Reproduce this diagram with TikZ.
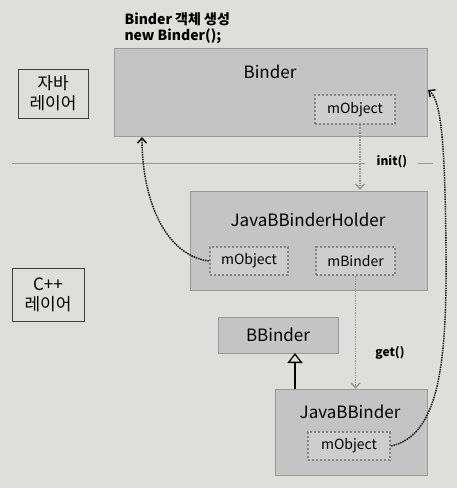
\documentclass[tikz,border=0pt]{standalone}
\usepackage{fontspec}
\setmainfont{Noto Sans CJK KR}
\usetikzlibrary{arrows.meta}

\definecolor{PageBack}{RGB}{222,222,220}
\definecolor{ClassFill}{RGB}{196,196,196}
\definecolor{FieldFill}{RGB}{206,206,206}
\colorlet{ClassLine}{gray!80}

\tikzset{
    classbox/.style={draw=ClassLine, fill=ClassFill, inner sep=0pt},
    fieldbox/.style={draw=black!48, fill=FieldFill, line width=2.4pt,
        dash pattern=on 2.4pt off 1.6pt, font=\fontsize{14}{16}\selectfont, inner sep=0pt},
    layerbox/.style={draw=black!75, thick, fill=PageBack, align=center,
        font=\fontsize{17}{20}\selectfont, inner sep=0pt},
    classname/.style={font=\fontsize{17}{20}\selectfont},
    refline/.style={densely dotted, line width=1.4pt, -{Straight Barb[length=5pt,width=9pt]}},
}

\begin{document}
\begin{tikzpicture}[x=1pt, y=-1pt]

    \useasboundingbox[fill=PageBack] (0, 0) rectangle (457, 488);

    % java layer
    \node [anchor=west, align=left, font=\bfseries\fontsize{14}{16}\selectfont] (title)
        at (121, 28) {Binder 객체 생성\\new Binder();};
    \node [layerbox, minimum width=70, minimum height=49] (javaLayer) at (53, 93.5) {자바\\레이어};
    \node [classbox, minimum width=313, minimum height=88] (binder) at (270.5, 92) {};
    \node [classname] (binderName) at (270, 72) {Binder};
    \node [fieldbox, minimum width=80, minimum height=29] (binderObj) at (355, 109.5) {mObject};

    \draw [gray!80] (12, 163) -- (365, 163);
    \node [font=\bfseries\fontsize{12}{14}\selectfont] (init) at (392, 162) {init()};
    \draw [gray!80] (418, 163) -- (433, 163);

    % c++ layer
    \node [layerbox, minimum width=72, minimum height=53] (cppLayer) at (48, 294.5) {C++\\레이어};
    \node [classbox, minimum width=237, minimum height=99] (holder) at (308.5, 240.5) {};
    \node [classname] (holderName) at (308, 220) {JavaBBinderHolder};
    \node [fieldbox, minimum width=78, minimum height=28] (holderObj) at (249, 261) {mObject};
    \node [fieldbox, minimum width=79, minimum height=28] (holderBinder) at (355.5, 261) {mBinder};

    \node [classbox, minimum width=120, minimum height=36, classname] (bbinder) at (278, 335) {BBinder};
    \node [classbox, minimum width=152, minimum height=86] (javaBBinder) at (351, 432) {};
    \node [classname] (javaBBinderName) at (350, 412) {JavaBBinder};
    \node [fieldbox, minimum width=82, minimum height=28] (javaBBinderObj) at (349, 446) {mObject};

    \node [font=\bfseries\fontsize{12}{14}\selectfont] (get) at (390, 353) {get()};

    % references
    \coordinate (holderTop) at (360, 190);
    \coordinate (binderBottom) at (142, 137);
    \coordinate (binderSide) at (428, 90);
    \draw [refline, gray!80] (360, 125) -- (holderTop);
    \draw [refline, gray!80] (holderBinder.south) -- (holderBinder.south |- javaBBinder.north);
    \draw [refline, black] (holderObj.west)
        .. controls (165, 255) and (142, 200) .. (binderBottom);
    \draw [refline, black] (javaBBinderObj.east)
        .. controls (440, 435) and (447, 360) .. (446, 250)
        .. controls (445, 150) and (442, 100) .. (binderSide);
    \draw [line width=1.3pt, -{Triangle[open, length=10pt, width=15pt]}]
        (295, 389) -- (295, 353);

\end{tikzpicture}
\end{document}
